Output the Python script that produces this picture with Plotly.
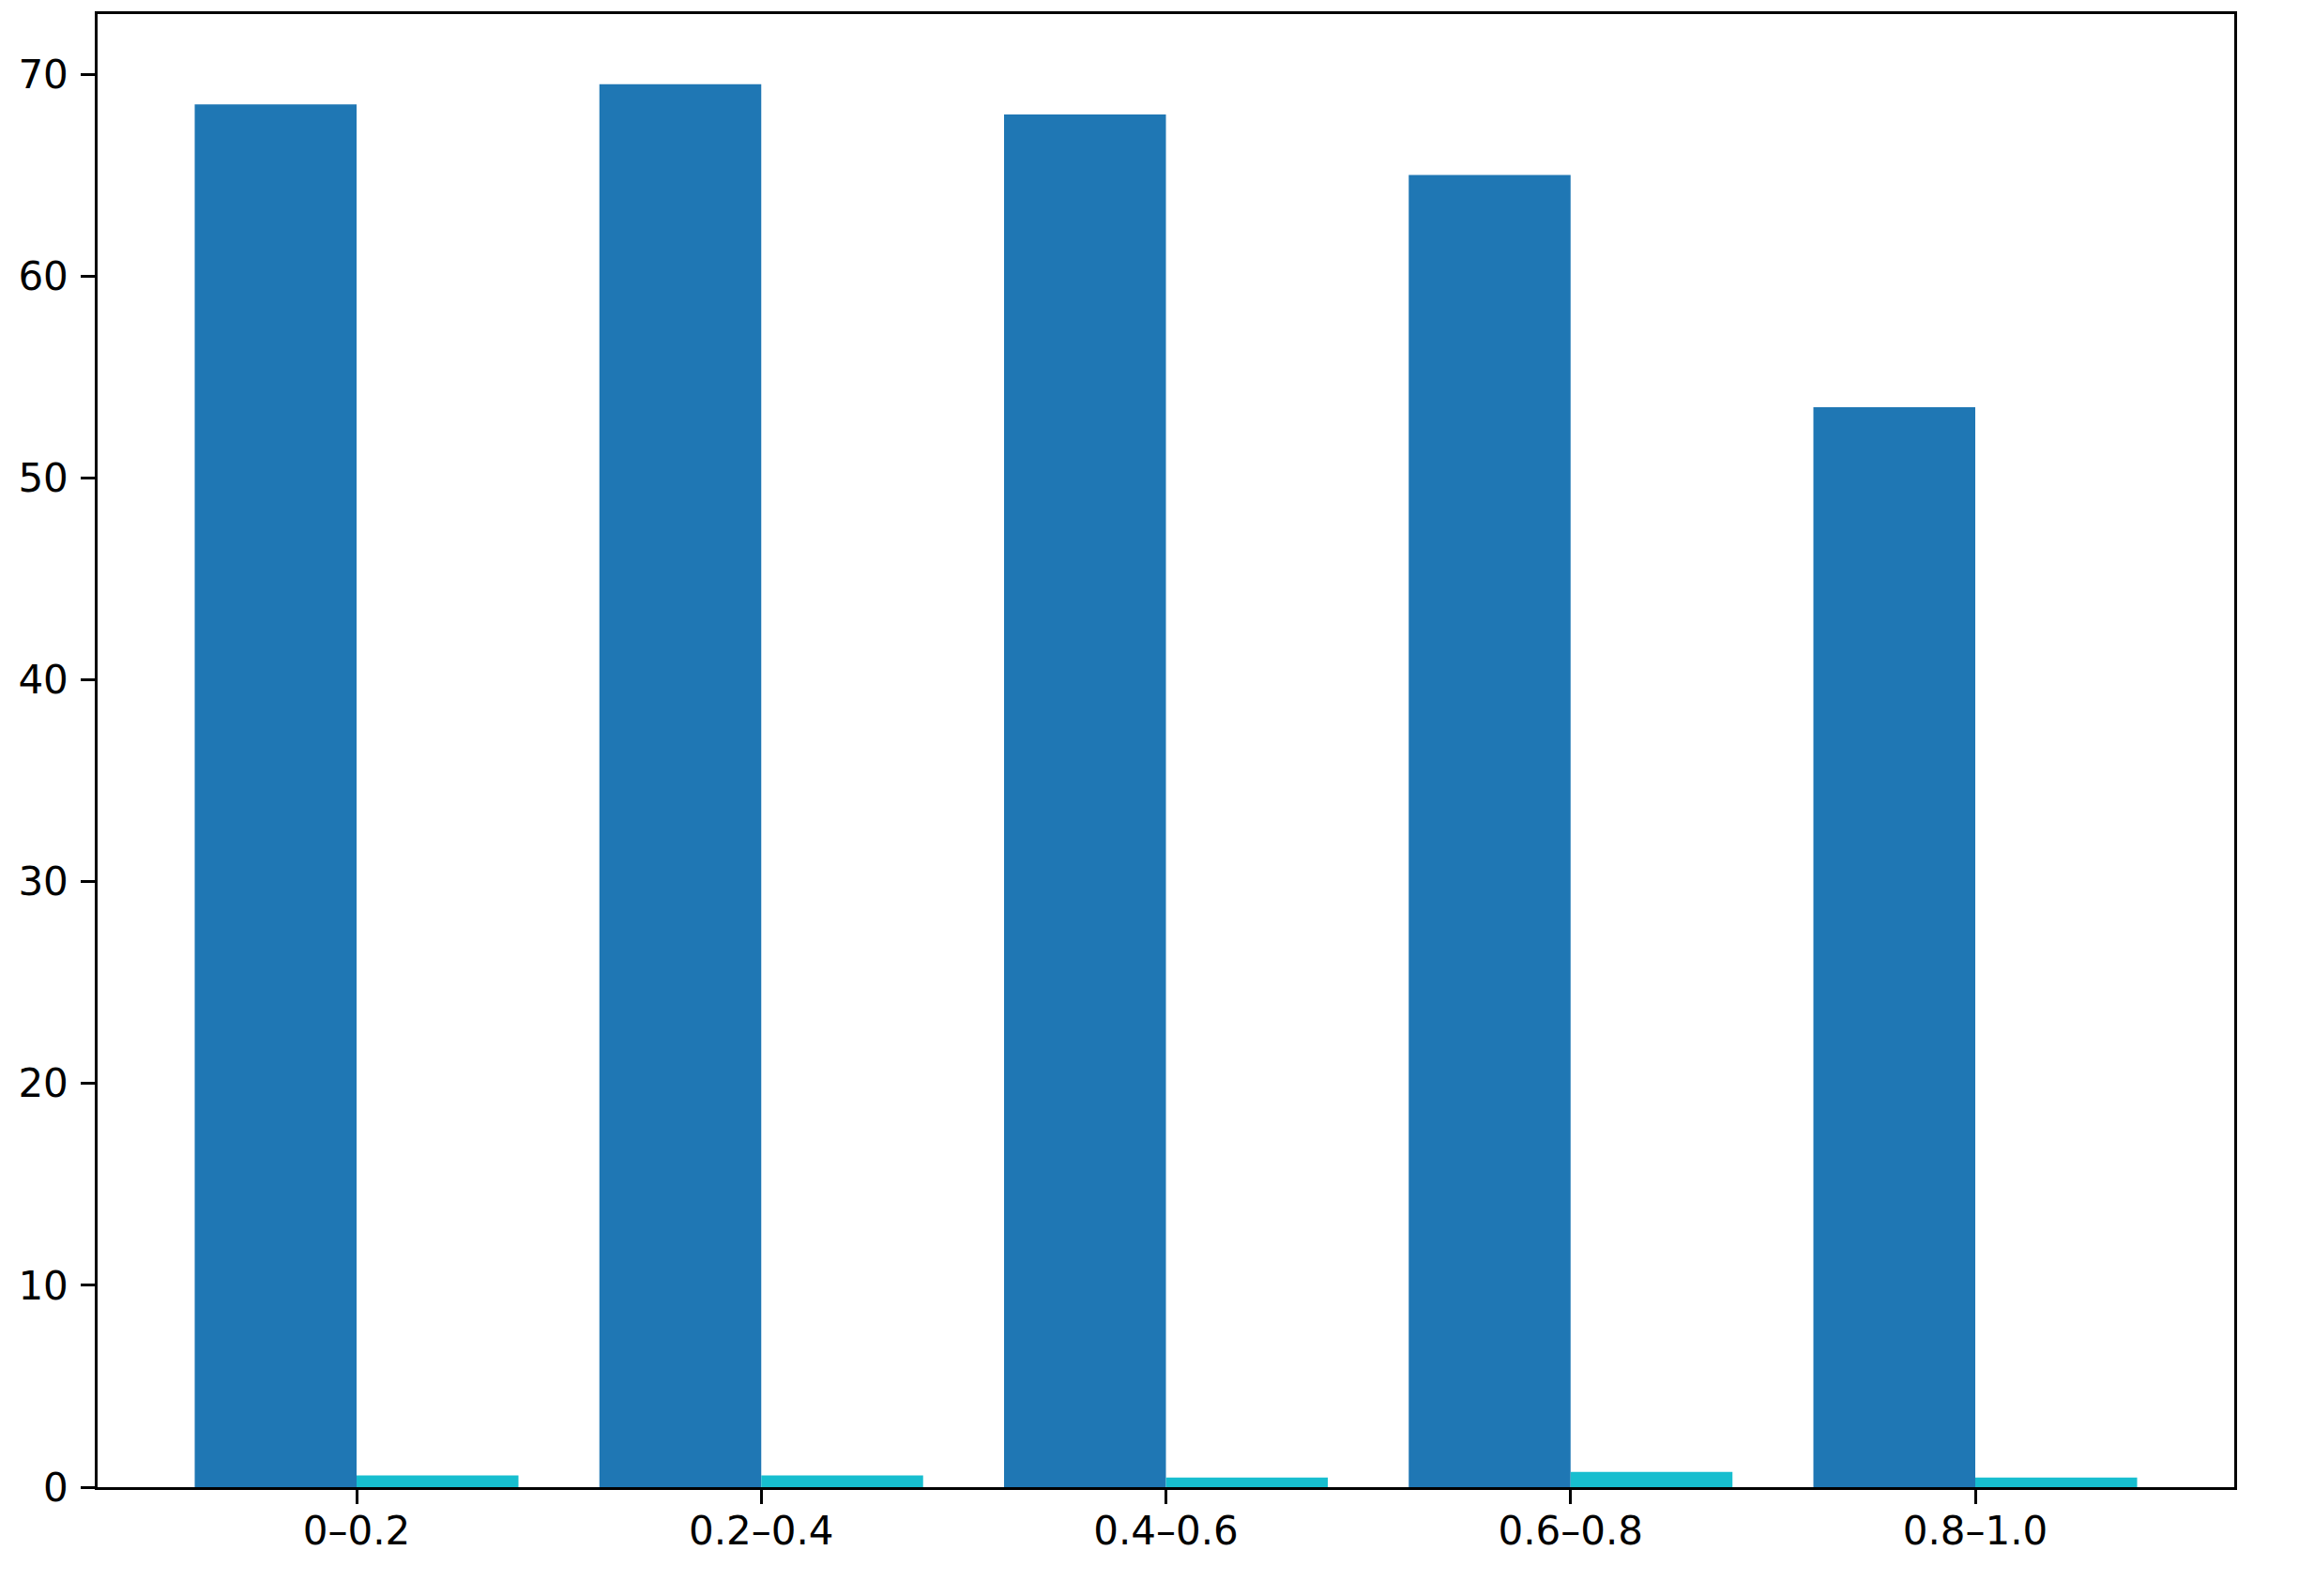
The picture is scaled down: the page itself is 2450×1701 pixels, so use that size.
import plotly.graph_objects as go

CATEGORIES = ["0–0.2", "0.2–0.4", "0.4–0.6", "0.6–0.8", "0.8–1.0"]
BLUE_VALUES = [68.5, 69.5, 68.0, 65.0, 53.5]
CYAN_VALUES = [0.58, 0.58, 0.48, 0.76, 0.48]
Y_TICKS = [0, 10, 20, 30, 40, 50, 60, 70]

BLUE = "#1f77b4"
CYAN = "#17becf"
FONT = "DejaVu Sans, Arial, sans-serif"

fig = go.Figure()
fig.add_trace(go.Bar(x=CATEGORIES, y=BLUE_VALUES, marker={"color": BLUE, "line": {"width": 0}}, name="a"))
fig.add_trace(go.Bar(x=CATEGORIES, y=CYAN_VALUES, marker={"color": CYAN, "line": {"width": 0}}, name="b"))

axis_common = {
    "showline": True,
    "linecolor": "black",
    "linewidth": 3.3,
    "mirror": True,
    "ticks": "outside",
    "ticklen": 14.6,
    "tickwidth": 3.3,
    "tickcolor": "black",
    "showgrid": False,
    "zeroline": False,
    "tickfont": {"family": FONT, "size": 42, "color": "black"},
}

# the page body has an 8px margin, so the plot box is shifted back by that much
fig.update_layout(
    width=2450,
    height=1701,
    paper_bgcolor="white",
    plot_bgcolor="white",
    barmode="group",
    bargap=0.2,
    bargroupgap=0,
    showlegend=False,
    margin={"l": 96, "r": 77, "t": 4, "b": 124},
    xaxis={**axis_common, "range": [-0.64, 4.64], "ticklabelstandoff": -7},
    yaxis={**axis_common, "range": [0, 72.975], "tickmode": "array", "tickvals": Y_TICKS,
           "ticklabelstandoff": 5},
)

fig.write_html("out.html")
